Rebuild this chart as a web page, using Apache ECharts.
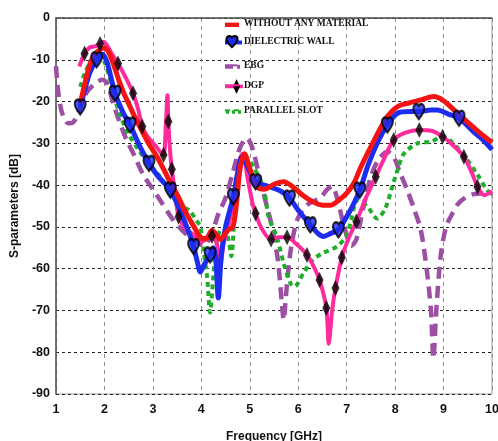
<!DOCTYPE html>
<html>
<head>
<meta charset="utf-8">
<script src="https://cdn.jsdelivr.net/npm/echarts@6/dist/echarts.min.js"></script>
<style>
html,body{margin:0;padding:0;background:#fff;}
#chart{width:498px;height:441px;}
</style>
</head>
<body>
<div id="chart"></div>
<script>
// ---- data (frequency in GHz, S-parameter in dB) ----
const xTicks = [1, 2, 3, 4, 5, 6, 7, 8, 9, 10];
const yTicks = [0, -10, -20, -30, -40, -50, -60, -70, -80, -90];
const seriesNames = ['WITHOUT ANY MATERIAL', 'DIELECTRIC WALL', 'EBG', 'DGP', 'PARALLEL SLOT'];

const withoutMaterial = [[1.5,-20.5],[1.6,-15.5],[1.7,-11],[1.8,-8.7],[1.9,-7.6],[2.0,-7.2],[2.1,-8.5],[2.2,-11.5],[2.3,-15],[2.4,-18],[2.5,-20.5],[2.6,-23],[2.75,-26.5],[2.9,-29.8],[3.1,-33.5],[3.3,-38],[3.5,-42.3],[3.7,-47],[3.85,-50],[3.98,-52.5],[4.1,-52.8],[4.22,-50.8],[4.32,-52],[4.39,-53],[4.47,-52],[4.56,-50.7],[4.65,-50],[4.72,-45],[4.8,-36],[4.89,-32.5],[5.0,-36],[5.15,-40.4],[5.3,-41],[5.5,-39.8],[5.7,-39.2],[5.9,-40.5],[6.1,-42.5],[6.3,-44],[6.5,-44.8],[6.67,-44.8],[6.85,-43.5],[7.01,-41.8],[7.15,-39.5],[7.3,-35.5],[7.5,-30.8],[7.7,-26.3],[7.84,-23.6],[8.05,-21.2],[8.3,-20.3],[8.53,-19.6],[8.8,-18.8],[9.0,-19.8],[9.29,-22.8],[9.5,-25],[9.75,-27.5],[10,-29.8]];

const dielectricWall = [[1.5,-21.3],[1.6,-17],[1.7,-13],[1.84,-10],[1.95,-8.6],[2.05,-10.5],[2.22,-18],[2.4,-23],[2.53,-25.6],[2.7,-30],[2.92,-34.8],[3.1,-37.8],[3.36,-41.2],[3.5,-44.5],[3.7,-50],[3.84,-54.7],[3.92,-58.5],[3.98,-60.8],[4.06,-59],[4.18,-56.7],[4.25,-55],[4.3,-58],[4.35,-67],[4.41,-57],[4.5,-50],[4.66,-42.8],[4.75,-37],[4.84,-33.2],[4.95,-35.5],[5.12,-39.2],[5.3,-40],[5.49,-40.7],[5.65,-41.5],[5.82,-43.1],[6.0,-46],[6.25,-49.5],[6.4,-51.5],[6.52,-52.3],[6.68,-51.5],[6.83,-50.7],[6.95,-48.5],[7.1,-45.5],[7.27,-41.2],[7.45,-35],[7.65,-29.5],[7.84,-25.6],[8.05,-22.8],[8.3,-22.4],[8.49,-22.4],[8.74,-22],[8.87,-22],[9.1,-23],[9.32,-24],[9.6,-27],[9.8,-29],[10,-31.5]];
const dielectricWallMarks = [1.5, 1.84, 2.22, 2.53, 2.92, 3.36, 3.84, 4.18, 4.66, 5.12, 5.82, 6.25, 6.83, 7.27, 7.84, 8.49, 9.32];

const ebg = [[1.0,-11.5],[1.03,-16],[1.08,-20.5],[1.15,-23.5],[1.25,-25.2],[1.35,-25],[1.45,-23],[1.55,-20],[1.65,-17.5],[1.8,-15.8],[1.95,-14.8],[2.05,-15.5],[2.18,-20.4],[2.3,-24.5],[2.45,-29],[2.6,-32.5],[2.8,-37.5],[3.0,-41],[3.2,-44.5],[3.43,-48.5],[3.7,-51.9],[3.9,-53.5],[4.05,-54.5],[4.2,-52],[4.35,-47],[4.5,-43],[4.65,-37],[4.8,-31],[4.94,-28.7],[5.05,-31],[5.2,-38],[5.35,-45],[5.46,-50],[5.58,-58],[5.66,-68],[5.7,-72.3],[5.75,-66],[5.84,-56],[5.98,-48.3],[6.18,-44.8],[6.46,-43],[6.6,-41],[6.7,-40.3],[6.8,-43],[6.95,-50],[7.1,-54.5],[7.2,-53],[7.35,-45],[7.5,-38],[7.65,-34],[7.84,-32],[7.98,-33.5],[8.1,-37],[8.25,-41.2],[8.4,-46],[8.53,-50.7],[8.65,-60],[8.74,-70],[8.79,-81.5],[8.85,-70],[8.94,-57],[9.05,-50],[9.15,-47.5],[9.3,-44.5],[9.45,-43],[9.6,-42.2],[9.77,-42],[10,-42]];

const dgp = [[1.48,-11.6],[1.59,-8.5],[1.7,-7],[1.8,-6.8],[1.91,-6.2],[1.97,-5.7],[2.05,-6.5],[2.15,-8.5],[2.28,-10.9],[2.45,-14.5],[2.59,-18],[2.7,-22],[2.78,-26],[2.9,-28.5],[3.05,-30.5],[3.15,-32],[3.22,-32.8],[3.27,-25],[3.3,-18.5],[3.32,-24.8],[3.35,-31],[3.39,-36.2],[3.45,-41],[3.53,-47.6],[3.65,-50],[3.8,-51.5],[4.0,-53.5],[4.1,-53],[4.22,-52.2],[4.32,-54],[4.39,-59.5],[4.46,-54],[4.55,-50],[4.65,-45],[4.73,-39],[4.8,-33.5],[4.86,-32.5],[4.95,-38],[5.05,-44],[5.12,-46.8],[5.25,-50.5],[5.44,-53],[5.6,-52.5],[5.77,-52.5],[5.95,-54],[6.18,-56.7],[6.32,-59.5],[6.44,-62.7],[6.58,-69.4],[6.63,-78],[6.7,-70],[6.77,-64.6],[6.9,-57.3],[7.05,-52.5],[7.2,-48.7],[7.4,-43],[7.6,-38],[7.8,-33],[7.97,-29.2],[8.2,-27.5],[8.5,-26.8],[8.75,-27],[8.98,-28.4],[9.2,-30.5],[9.42,-33.2],[9.6,-37.5],[9.7,-40.4],[9.84,-42.4],[10,-41.5]];
const dgpMarks = [1.59, 1.91, 2.28, 2.59, 2.78, 3.22, 3.32, 3.39, 3.53, 4.22, 5.12, 5.44, 5.77, 6.18, 6.44, 6.58, 6.77, 6.9, 7.2, 7.6, 7.97, 8.5, 8.98, 9.42, 9.7];

const parallelSlot = [[1.5,-16.5],[1.6,-13],[1.7,-10.8],[1.8,-9.5],[1.9,-9],[2.0,-10.5],[2.1,-14],[2.22,-19.6],[2.35,-24],[2.49,-27.6],[2.7,-31.5],[2.92,-34.8],[3.15,-38],[3.42,-42.8],[3.6,-45.2],[3.75,-46],[3.9,-48.5],[3.98,-50],[4.05,-56],[4.12,-62],[4.18,-70.5],[4.24,-63],[4.3,-55],[4.38,-51],[4.47,-50.5],[4.56,-53],[4.62,-57],[4.68,-48],[4.74,-40],[4.8,-34.8],[4.87,-32.5],[4.95,-33.5],[5.08,-35.6],[5.29,-41],[5.39,-47.6],[5.56,-52.5],[5.7,-58.7],[5.84,-63.5],[5.92,-64.3],[6.11,-61],[6.29,-58],[6.5,-56.3],[6.8,-54.7],[7.0,-52],[7.1,-48],[7.22,-43.6],[7.43,-45.2],[7.63,-48],[7.8,-45.5],[7.95,-40],[8.05,-36.4],[8.18,-32.5],[8.46,-30],[8.74,-29.6],[8.98,-28.4],[9.2,-30],[9.49,-34],[9.7,-37.5],[9.9,-41.2],[10,-42]];

// ---- styling ----
const RED = '#f41414', BLUE = '#1c2cf0', PURPLE = '#9c4fa3', PINK = '#ff2a9c', GREEN = '#1fae2a';
const HEART = 'path://M12,21.35l-1.45-1.32C5.4,15.36,2,12.28,2,8.5C2,5.42,4.42,3,7.5,3c1.74,0,3.41,0.81,4.5,2.09C13.09,3.81,14.76,3,16.5,3C19.58,3,22,5.42,22,8.5c0,3.78-3.4,6.86-8.55,11.54L12,21.35z';
const pick = (data, xs) => xs.map(x => data.find(p => p[0] === x));

const legendFont = {fontFamily: '"Liberation Serif", "Times New Roman", serif', fontWeight: 'bold', fontSize: 9.5, color: '#111'};
const legendTops = [18, 35, 59.7, 79.7, 104.7];
const legends = seriesNames.map((n, i) => ({
  data: [n], left: 224, top: legendTops[i], orient: 'vertical',
  itemWidth: 14, itemHeight: 14, itemGap: 4, padding: 0, z: 6,
  selectedMode: false, textStyle: legendFont,
  itemStyle: i === 1 ? {color: BLUE, borderColor: '#000', borderWidth: 2} : {opacity: 0}
}));

// legend key strokes (decoration of the legend, not data)
const legendKeys = [
  {type: 'line', shape: {x1: 225, y1: 25, x2: 239, y2: 25}, style: {stroke: RED, lineWidth: 4}},
  {type: 'line', shape: {x1: 225, y1: 42.5, x2: 242, y2: 42.5}, style: {stroke: BLUE, lineWidth: 4}},
  {type: 'line', shape: {x1: 225, y1: 66.7, x2: 240, y2: 66.7}, style: {stroke: PURPLE, lineWidth: 4, lineDash: [8, 4]}},
  {type: 'line', shape: {x1: 225, y1: 86.5, x2: 243, y2: 86.5}, style: {stroke: PINK, lineWidth: 3.5}},
  {type: 'polygon', shape: {points: [[236.5, 79], [240, 86.5], [236.5, 94], [233, 86.5]]}, style: {fill: '#000'}},
  {type: 'line', shape: {x1: 226, y1: 112, x2: 241, y2: 112}, style: {stroke: GREEN, lineWidth: 3.5, lineDash: [3, 3]}}
];

const chart = echarts.init(document.getElementById('chart'), null, {renderer: 'canvas'});
chart.setOption({
  animation: false,
  backgroundColor: '#fff',
  legend: legends,
  graphic: {elements: legendKeys.map(e => Object.assign({z: 5, silent: true}, e))},
  grid: {left: 56, right: 6, top: 18, bottom: 47, show: true, borderColor: '#9a9a9a', borderWidth: 1,
         outerBoundsMode: 'none', containLabel: false},
  xAxis: {
    type: 'value', min: 1, max: 10, interval: 1,
    name: 'Frequency [GHz]', nameLocation: 'middle', nameGap: 37,
    nameTextStyle: {fontFamily: '"Liberation Sans", Arial, sans-serif', fontWeight: 'bold', fontSize: 12, color: '#111'},
    axisLine: {lineStyle: {color: '#555', width: 1.5}},
    axisTick: {show: false},
    axisLabel: {margin: 9, fontFamily: '"Liberation Sans Narrow", "Liberation Sans", Arial, sans-serif', fontWeight: 'bold', fontSize: 12.5, color: '#111',
      formatter: v => xTicks.includes(v) ? String(v) : ''},
    splitLine: {show: true, lineStyle: {color: '#8c8c8c', type: [4, 4], width: 1}}
  },
  yAxis: {
    type: 'value', min: -90, max: 0, interval: 10,
    name: 'S-parameters [dB]', nameLocation: 'middle', nameGap: 34, nameRotate: 90,
    nameTextStyle: {fontFamily: '"Liberation Sans", Arial, sans-serif', fontWeight: 'bold', fontSize: 12, color: '#111'},
    axisLine: {show: true, lineStyle: {color: '#555', width: 1.5}},
    axisTick: {show: false},
    axisLabel: {margin: 6, fontFamily: '"Liberation Sans Narrow", "Liberation Sans", Arial, sans-serif', fontWeight: 'bold', fontSize: 12.5, color: '#111',
      formatter: v => yTicks.includes(v) ? String(v) : ''},
    splitLine: {show: true, lineStyle: {color: '#222', type: [3, 3], width: 1}}
  },
  series: [
    {name: seriesNames[2], type: 'line', data: ebg, smooth: 0.3, showSymbol: false, symbol: 'none', z: 2,
     itemStyle: {color: PURPLE}, lineStyle: {color: PURPLE, width: 4.5, type: [12, 7]}},
    {name: seriesNames[4], type: 'line', data: parallelSlot, smooth: 0.3, showSymbol: false, symbol: 'none', z: 3,
     itemStyle: {color: GREEN}, lineStyle: {color: GREEN, width: 4, type: [5, 4]}},
    {name: seriesNames[3], type: 'line', data: dgp, smooth: 0.3, showSymbol: false, symbol: 'none', z: 4,
     itemStyle: {color: PINK}, lineStyle: {color: PINK, width: 4}},
    {name: seriesNames[1], type: 'line', data: dielectricWall, smooth: 0.3, showSymbol: false, symbol: HEART, symbolSize: [11, 14], z: 5,
     itemStyle: {color: BLUE, borderColor: '#000', borderWidth: 2}, lineStyle: {color: BLUE, width: 5}},
    {name: seriesNames[0], type: 'line', data: withoutMaterial, smooth: 0.3, showSymbol: false, symbol: 'none', z: 6,
     itemStyle: {color: RED}, lineStyle: {color: RED, width: 5}},
    {type: 'scatter', data: pick(dielectricWall, dielectricWallMarks), symbol: HEART, symbolSize: [11, 15], z: 8, silent: true,
     itemStyle: {color: BLUE, borderColor: '#000', borderWidth: 2.2}},
    {type: 'scatter', data: pick(dgp, dgpMarks), symbol: 'diamond', symbolSize: [8, 16], z: 8, silent: true,
     itemStyle: {color: '#000'}}
  ]
});
</script>
</body>
</html>
